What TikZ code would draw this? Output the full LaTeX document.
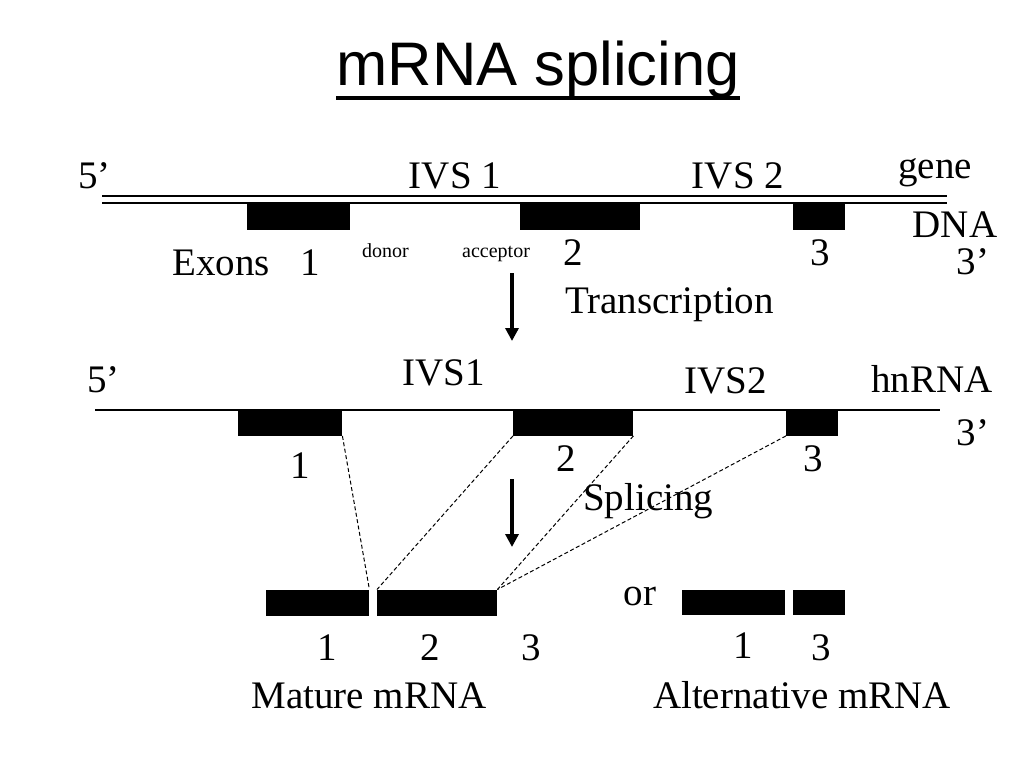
\documentclass[tikz,border=0pt]{standalone}
\usepackage{fontspec}
\setmainfont{Liberation Serif}
\newfontfamily\titlefont{Liberation Sans}
\usetikzlibrary{arrows.meta}
\begin{document}
\begin{tikzpicture}[x=1pt,y=-1pt,
  lbl/.style={inner sep=0pt,anchor=base west,font=\fontsize{39}{40}\selectfont},
  lblc/.style={inner sep=0pt,anchor=base,font=\fontsize{39}{40}\selectfont},
  small/.style={inner sep=0pt,anchor=base west,font=\fontsize{20}{22}\selectfont},
  exon/.style={draw=none,fill=black,inner sep=0pt,anchor=north west,rectangle},
  strand/.style={line width=1.2pt},
  conn/.style={line width=1pt,dash pattern=on 4pt off 2.5pt},
  bigarrow/.style={line width=3.5pt,-{Triangle[length=13pt,width=13pt]}}
]
\useasboundingbox[fill=white] (0,0) rectangle (1024,768);

% title
\node[inner sep=0pt,anchor=base,font=\titlefont\fontsize{61.5}{63}\selectfont] (title) at (538,85) {mRNA splicing};
\draw[line width=3.5pt] ([yshift=-13pt]title.base west) -- ([yshift=-13pt]title.base east);

% DNA
\coordinate (d1a) at (102,196); \coordinate (d1b) at (947,196);
\coordinate (d2a) at (102,203); \coordinate (d2b) at (947,203);
\draw[strand] (d1a) -- (d1b);
\draw[strand] (d2a) -- (d2b);
\node[exon,minimum width=103pt,minimum height=27pt] (de1) at (247,203) {};
\node[exon,minimum width=120pt,minimum height=27pt] (de2) at (520,203) {};
\node[exon,minimum width=52pt,minimum height=27pt] (de3) at (793,203) {};

\node[lbl] (t5a) at (78,188) {5’};
\node[lblc] (tivs1) at (455,188) {IVS 1};
\node[lblc] (tivs2) at (738,188) {IVS 2};
\node[lblc] (tgene) at (935,178) {gene};
\node[lblc] (tdna) at (955,237) {DNA};
\node[lblc] (t3a) at (973,274) {3’};
\node[lbl] (texons) at (172,275) {Exons};
\node[lblc] (tex1) at (310,275) {1};
\node[small] (tdonor) at (362,257) {donor};
\node[small] (taccept) at (462,257) {acceptor};
\node[lblc] (tex2) at (573,265) {2};
\node[lblc] (tex3) at (820,265) {3};

% transcription arrow
\coordinate (a1s) at (512,273); \coordinate (a1e) at (512,341);
\draw[bigarrow] (a1s) -- (a1e);
\node[lbl] (ttrans) at (565,313) {Transcription};

% hnRNA
\coordinate (ha) at (95,410); \coordinate (hb) at (940,410);
\draw[strand] (ha) -- (hb);
\node[exon,minimum width=104pt,minimum height=26pt] (he1) at (238,409.5) {};
\node[exon,minimum width=120pt,minimum height=26pt] (he2) at (513,409.5) {};
\node[exon,minimum width=52pt,minimum height=26pt] (he3) at (786,409.5) {};

\node[lbl] (t5b) at (87,392) {5’};
\node[lblc] (tivs1b) at (444,385) {IVS1};
\node[lblc] (tivs2b) at (726,393) {IVS2};
\node[lblc] (thn) at (932,392) {hnRNA};
\node[lblc] (t3b) at (973,445) {3’};
\node[lblc] (th1) at (300,478) {1};
\node[lblc] (th2) at (566,471) {2};
\node[lblc] (th3) at (813,471) {3};

% splicing arrow
\coordinate (a2s) at (512,479); \coordinate (a2e) at (512,547);
\draw[bigarrow] (a2s) -- (a2e);
\node[lbl] (tspl) at (583,510) {Splicing};

% mature mRNA
\node[exon,minimum width=103pt,minimum height=26pt] (m1) at (266,589.5) {};
\node[exon,minimum width=120pt,minimum height=26pt] (m2) at (377,589.5) {};
\node[exon,minimum width=103pt,minimum height=25pt] (al1) at (682,589.5) {};
\node[exon,minimum width=52pt,minimum height=25pt] (al3) at (793,589.5) {};

\draw[conn] (he1.south east) -- (m1.north east);
\draw[conn] (he2.south west) -- (m2.north west);
\draw[conn] (he2.south east) -- (m2.north east);
\draw[conn] (he3.south west) -- (m2.north east);

\node[lblc] (tor) at (640,605) {or};
\node[lblc] (tm1) at (327,660) {1};
\node[lblc] (tm2) at (430,660) {2};
\node[lblc] (tm3) at (531,660) {3};
\node[lblc] (tal1) at (743,658) {1};
\node[lblc] (tal3) at (821,660) {3};
\node[lblc] (tmat) at (369,708) {Mature mRNA};
\node[lblc] (talt) at (802,708) {Alternative mRNA};
\end{tikzpicture}
\end{document}
